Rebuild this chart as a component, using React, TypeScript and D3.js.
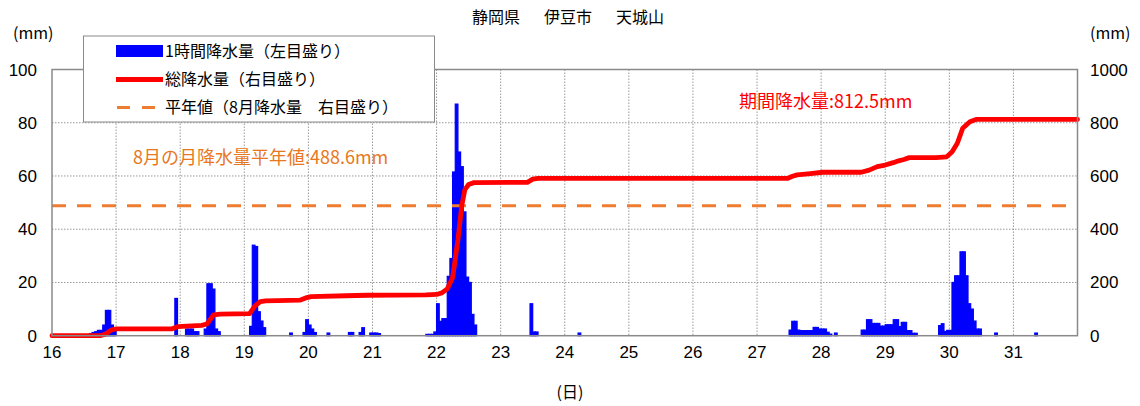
import React from "react";
import * as d3 from "d3";

// ---------- data ----------
const TITLE_PARTS = ["静岡県", "伊豆市", "天城山"];
const DAY_LABELS = [16, 17, 18, 19, 20, 21, 22, 23, 24, 25, 26, 27, 28, 29, 30, 31];
const LEFT_TICKS = [0, 20, 40, 60, 80, 100];
const RIGHT_TICKS = [0, 200, 400, 600, 800, 1000];
const GRID_LEFT = [20, 40, 60, 80];
const NORMAL_AUGUST = 488.6; // 平年値 (mm)
const PERIOD_TOTAL = 812.5; // 期間降水量 (mm)
const FIRST_DAY = 16;
const N_DAYS = 16;

// hourly precipitation: [day, hour, mm]
const hourlyRain: [number, number, number][] = [
  [16, 14, 0.8], [16, 15, 1.2], [16, 16, 1.5], [16, 17, 2], [16, 18, 2], [16, 19, 4],
  [16, 20, 9.5], [16, 21, 9.5], [16, 22, 4], [16, 23, 3],
  [17, 22, 14],
  [18, 2, 2.5], [18, 3, 2.5], [18, 4, 2.5], [18, 5, 1.5], [18, 6, 1.5],
  [18, 9, 2.5], [18, 10, 19.5], [18, 11, 19.5], [18, 12, 17.5], [18, 13, 2.5], [18, 14, 1.5],
  [19, 2, 3.5], [19, 3, 34], [19, 4, 33.5], [19, 5, 9], [19, 6, 5.5], [19, 7, 3],
  [19, 17, 1],
  [19, 22, 1.2], [19, 23, 6], [20, 0, 4], [20, 1, 2.5], [20, 2, 1.2],
  [20, 7, 1],
  [20, 15, 1.2], [20, 16, 1.2], [20, 19, 1.2], [20, 20, 3],
  [20, 23, 1], [21, 0, 1], [21, 1, 1], [21, 2, 0.8],
  [21, 20, 0.5], [21, 21, 0.5], [21, 22, 0.5], [21, 23, 1.4],
  [22, 0, 12], [22, 1, 5.4], [22, 2, 6.4], [22, 3, 6.4], [22, 4, 22.3], [22, 5, 29],
  [22, 6, 61.5], [22, 7, 87], [22, 8, 69], [22, 9, 63.5], [22, 10, 46.5], [22, 11, 22],
  [22, 12, 20], [22, 13, 8], [22, 14, 4],
  [23, 11, 12], [23, 12, 1.4], [23, 13, 1.4],
  [24, 5, 1],
  [27, 12, 2.1], [27, 13, 5.4], [27, 14, 5.4], [27, 15, 2.1], [27, 16, 1.9], [27, 17, 1.9],
  [27, 18, 1.9], [27, 19, 1.9], [27, 20, 1.9], [27, 21, 3.1], [27, 22, 3.1], [27, 23, 2.5],
  [28, 0, 2.5], [28, 1, 2.5], [28, 2, 1.3], [28, 3, 0.6], [28, 5, 1],
  [28, 15, 2.1], [28, 16, 2.1], [28, 17, 6], [28, 18, 6], [28, 19, 4.6], [28, 20, 4.6],
  [28, 21, 4.6], [28, 22, 3.6], [28, 23, 3.6], [29, 0, 4.1], [29, 1, 4.1], [29, 2, 4.1],
  [29, 3, 6], [29, 4, 6], [29, 5, 3.4], [29, 6, 5], [29, 7, 5], [29, 8, 1.9], [29, 9, 1.9],
  [29, 10, 0.9], [29, 11, 0.9],
  [29, 20, 3.8], [29, 21, 4.5], [29, 22, 1.6], [29, 23, 2],
  [30, 0, 2], [30, 1, 20], [30, 2, 22.5], [30, 3, 22.5], [30, 4, 31.5], [30, 5, 31.5],
  [30, 6, 22.5], [30, 7, 12], [30, 8, 10], [30, 9, 5.5], [30, 10, 2.5], [30, 11, 2.5],
  [30, 17, 1],
  [31, 8, 1],
];

// cumulative precipitation: [hours since 16日0時, mm]
const totalRain: [number, number][] = [
  [0, 0], [18, 0], [20, 6], [22.4, 22], [24.2, 26], [45, 26], [47, 34], [56, 39], [58, 44],
  [60.5, 78], [63, 81], [74, 83], [76, 112], [78, 128], [80, 131], [93, 134], [95, 142],
  [97, 147], [110, 150], [118, 152], [140, 153], [144, 155], [146, 161], [148, 176],
  [150, 218], [152, 360], [153.4, 486], [154.6, 549], [156, 568], [158, 575], [178, 576],
  [180, 588], [182, 591], [275.5, 591], [277, 598], [279, 604], [284, 609], [288.6, 614],
  [303, 614], [306, 622], [309, 635], [312, 641], [315, 650], [317, 657], [319, 662],
  [321, 669], [331, 669], [335, 672], [337, 690], [339, 723], [341, 779], [343.7, 804],
  [346, 812.5], [384, 812.5],
];

// ---------- layout ----------
const W = 1140;
const H = 406;
const PL = 52;
const PR = 1077.5;
const PT = 69.5;
const PB = 335.7;

const JP = "'Noto Sans CJK JP', 'Noto Sans', sans-serif";
const NUM = "'Liberation Sans', Arial, sans-serif";

export default function App() {
  const x = d3.scaleLinear().domain([0, N_DAYS * 24]).range([PL, PR]);
  const yL = d3.scaleLinear().domain([0, 100]).range([PB, PT]);
  const yR = d3.scaleLinear().domain([0, 1000]).range([PB, PT]);

  const line = d3
    .line<[number, number]>()
    .x((d) => x(d[0]))
    .y((d) => yR(d[1]));

  const bars = hourlyRain.map(([day, hour, mm]) => {
    const h = (day - FIRST_DAY) * 24 + hour;
    return { h, mm };
  });

  const dayLines = d3.range(1, N_DAYS).map((i) => x(i * 24));

  return (
    <svg
      width={W}
      height={H}
      viewBox={`0 0 ${W} ${H}`}
      style={{ position: "absolute", left: 0, top: 0, background: "#fff" }}
    >
      <rect x={0} y={0} width={W} height={H} fill="#fff" />
      {/* title */}
      {TITLE_PARTS.map((t, i) => (
        <text
          key={t}
          x={496 + i * 72}
          y={23}
          textAnchor="middle"
          fontFamily={JP}
          fontSize={16}
          fill="#000"
        >
          {t}
        </text>
      ))}

      {/* grid */}
      {GRID_LEFT.map((v) => (
        <line
          key={"g" + v}
          x1={PL}
          x2={PR}
          y1={yL(v)}
          y2={yL(v)}
          stroke="#9a9a9a"
          strokeWidth={1}
          strokeDasharray="1.5,1.5"
        />
      ))}
      {dayLines.map((xx, i) => (
        <line
          key={"d" + i}
          x1={xx}
          x2={xx}
          y1={PT}
          y2={PB}
          stroke="#9a9a9a"
          strokeWidth={1}
          strokeDasharray="1.5,1.5"
        />
      ))}

      {/* bars */}
      {bars.map((b, i) => (
        <rect
          key={"b" + i}
          x={x(b.h)}
          y={yL(b.mm)}
          width={x(b.h + 1) - x(b.h)}
          height={PB - yL(b.mm)}
          fill="#0000ff"
          stroke="#0000ff"
          strokeWidth={1.2}
        />
      ))}

      {/* normal line */}
      <line
        x1={PL}
        x2={PR}
        y1={yR(NORMAL_AUGUST)}
        y2={yR(NORMAL_AUGUST)}
        stroke="#ed7d31"
        strokeWidth={3}
        strokeDasharray="14,11"
      />

      {/* cumulative line */}
      <path
        d={line(totalRain) || ""}
        fill="none"
        stroke="#ff0000"
        strokeWidth={4.8}
        strokeLinejoin="round"
        strokeLinecap="round"
      />

      {/* frame */}
      <rect
        x={PL}
        y={PT}
        width={PR - PL}
        height={PB - PT}
        fill="none"
        stroke="#8a8a8a"
        strokeWidth={1.5}
      />

      {/* left ticks */}
      {LEFT_TICKS.map((v) => (
        <text
          key={"l" + v}
          x={37}
          y={yL(v) + 6}
          textAnchor="end"
          fontFamily={NUM}
          fontSize={17}
          fill="#000"
        >
          {v}
        </text>
      ))}
      {/* right ticks */}
      {RIGHT_TICKS.map((v) => (
        <text
          key={"r" + v}
          x={1090}
          y={yR(v) + 6}
          textAnchor="start"
          fontFamily={NUM}
          fontSize={17}
          fill="#000"
        >
          {v}
        </text>
      ))}
      {/* bottom ticks */}
      {DAY_LABELS.map((d, i) => (
        <text
          key={"x" + d}
          x={x(i * 24)}
          y={358}
          textAnchor="middle"
          fontFamily={NUM}
          fontSize={17}
          fill="#000"
        >
          {d}
        </text>
      ))}

      {/* unit labels */}
      <text x={13} y={39} fontFamily={JP} fontSize={16} fill="#000">
        (mm)
      </text>
      <text x={1090} y={39} fontFamily={JP} fontSize={16} fill="#000">
        (mm)
      </text>
      <text x={570} y={398} textAnchor="middle" fontFamily={JP} fontSize={16} fill="#000">
        (日)
      </text>

      {/* annotations */}
      <text x={739} y={108} fontFamily={JP} fontSize={18} fill="#ff0000">
        {`期間降水量:${PERIOD_TOTAL}mm`}
      </text>
      <text x={133} y={164} fontFamily={JP} fontSize={18} fill="#e87722">
        {`8月の月降水量平年値:${NORMAL_AUGUST}mm`}
      </text>

      {/* legend */}
      <rect x={83.5} y={36} width={351} height={86} fill="#fff" stroke="#8a8a8a" strokeWidth={1} />
      <rect x={116} y={45} width={47} height={12} fill="#0000ff" />
      <text x={165} y={57} fontFamily={JP} fontSize={16} fill="#000">
        1時間降水量（左目盛り）
      </text>
      <line x1={116} x2={163} y1={79.5} y2={79.5} stroke="#ff0000" strokeWidth={4.8} />
      <text x={165} y={85} fontFamily={JP} fontSize={16} fill="#000">
        総降水量（右目盛り）
      </text>
      <line
        x1={117}
        x2={163}
        y1={107.5}
        y2={107.5}
        stroke="#ed7d31"
        strokeWidth={3}
        strokeDasharray="13,12"
      />
      <text x={165} y={113} fontFamily={JP} fontSize={16} fill="#000">
        平年値（8月降水量　右目盛り）
      </text>
    </svg>
  );
}
